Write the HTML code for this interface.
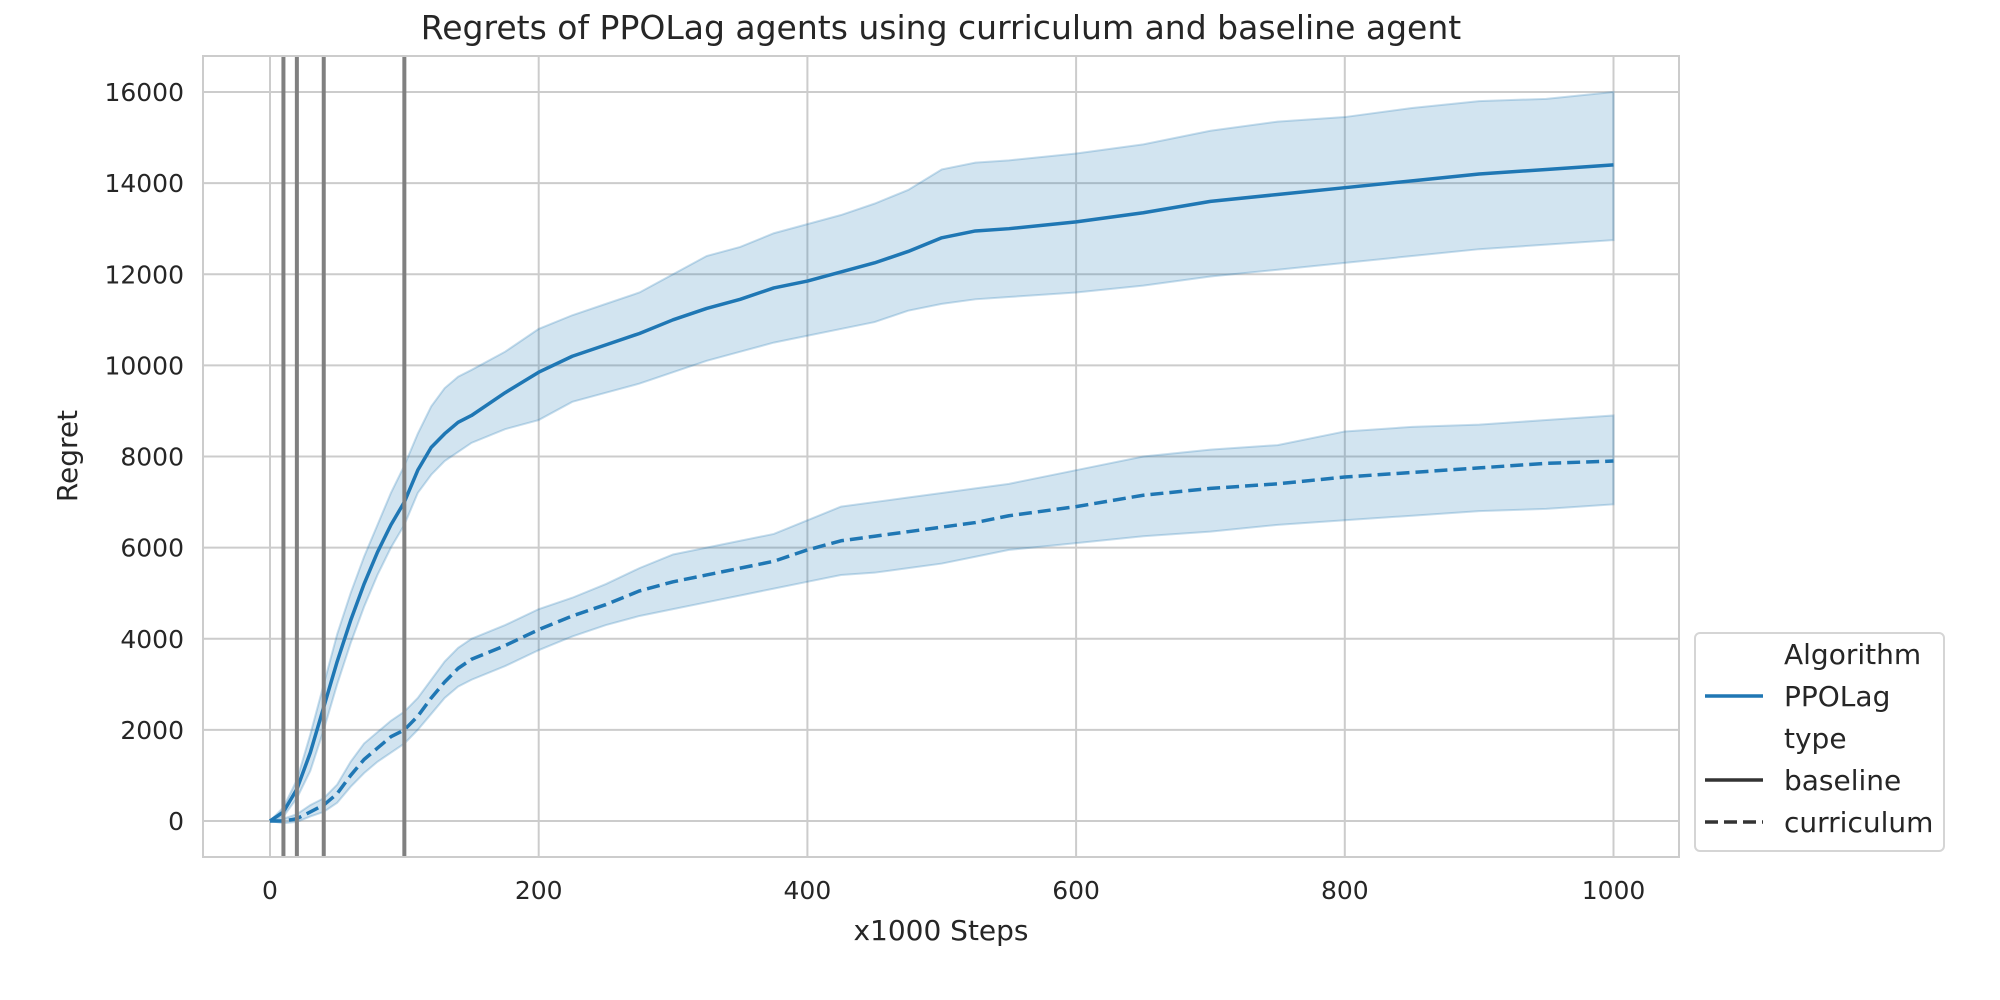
<!DOCTYPE html>
<html><head><meta charset="utf-8"><style>
body{margin:0;background:#fff}
svg{display:block;font-family:"DejaVu Sans","Liberation Sans",sans-serif;fill:#262626}
</style></head><body>
<svg id="chart" width="2000" height="1000" xmlns="http://www.w3.org/2000/svg">
<rect width="2000" height="1000" fill="#fff"/>
<text x="941" y="39" text-anchor="middle" font-size="33">Regrets of PPOLag agents using curriculum and baseline agent</text>
<g id="grid"></g>
<g id="bands"></g>
<g id="lines"></g>
<g id="vlines"></g>
<rect x="203" y="56" width="1476" height="801" fill="none" stroke="#cccccc" stroke-width="2"/>
<g id="ticks"></g>
<text x="941" y="940" text-anchor="middle" font-size="28">x1000 Steps</text>
<text transform="translate(77,456) rotate(-90)" text-anchor="middle" font-size="28">Regret</text>
<g>
<rect x="1695" y="633" width="249" height="218" rx="5" fill="#fff" stroke="#d5d5d5" stroke-width="2"/>
<text x="1784" y="664" font-size="28">Algorithm</text>
<line x1="1705" y1="696" x2="1763" y2="696" stroke="#1f77b4" stroke-width="3.5"/>
<text x="1784" y="706" font-size="28">PPOLag</text>
<text x="1784" y="748" font-size="28">type</text>
<line x1="1705" y1="780" x2="1763" y2="780" stroke="#333" stroke-width="3.5"/>
<text x="1784" y="790" font-size="28">baseline</text>
<line x1="1705" y1="822" x2="1763" y2="822" stroke="#333" stroke-width="3.5" stroke-dasharray="13,6"/>
<text x="1784" y="832" font-size="28">curriculum</text>
</g>
</svg>
<script>
const steps=[0,10,20,30,40,50,60,70,80,90,100,110,120,130,140,150,175,200,225,250,275,300,325,350,375,400,425,450,475,500,525,550,600,650,700,750,800,850,900,950,1000];
const baseMean=[0,200,700,1500,2500,3500,4400,5200,5900,6500,7000,7700,8200,8500,8750,8900,9400,9850,10200,10450,10700,11000,11250,11450,11700,11850,12050,12250,12500,12800,12950,13000,13150,13350,13600,13750,13900,14050,14200,14300,14400];
const baseUpper=[0,300,900,1900,3000,4100,5000,5800,6500,7200,7800,8500,9100,9500,9750,9900,10300,10800,11100,11350,11600,12000,12400,12600,12900,13100,13300,13550,13850,14300,14450,14500,14650,14850,15150,15350,15450,15650,15800,15850,16000];
const baseLower=[0,100,500,1100,2000,3000,3900,4700,5400,6000,6500,7200,7600,7900,8100,8300,8600,8800,9200,9400,9600,9850,10100,10300,10500,10650,10800,10950,11200,11350,11450,11500,11600,11750,11950,12100,12250,12400,12550,12650,12750];
const currMean=[0,0,50,200,350,600,1000,1350,1600,1850,2000,2300,2700,3050,3350,3550,3850,4200,4500,4750,5050,5250,5400,5550,5700,5950,6150,6250,6350,6450,6550,6700,6900,7150,7300,7400,7550,7650,7750,7850,7900];
const currUpper=[0,50,150,350,500,800,1300,1700,1950,2200,2400,2700,3100,3500,3800,4000,4300,4650,4900,5200,5550,5850,6000,6150,6300,6600,6900,7000,7100,7200,7300,7400,7700,8000,8150,8250,8550,8650,8700,8800,8900];
const currLower=[0,-50,-20,100,200,400,750,1050,1300,1500,1700,2000,2350,2700,2950,3100,3400,3750,4050,4300,4500,4650,4800,4950,5100,5250,5400,5450,5550,5650,5800,5950,6100,6250,6350,6500,6600,6700,6800,6850,6950];
const curriculumSwitches=[10,20,40,100];
const xTicks=[0,200,400,600,800,1000];
const yTicks=[0,2000,4000,6000,8000,10000,12000,14000,16000];

const NS="http://www.w3.org/2000/svg";
const X=v=>270+v*(1613.5-270)/1000;
const Y=v=>821-v*(821-92)/16000;
function mk(tag,attrs,parent){const e=document.createElementNS(NS,tag);for(const k in attrs)e.setAttribute(k,attrs[k]);document.getElementById(parent).appendChild(e);return e;}

xTicks.forEach(t=>{
  const l=mk('line',{x1:X(t),x2:X(t),y1:56,y2:857,stroke:'#cccccc','stroke-width':2},'grid');
  
  
  const tx=mk('text',{x:X(t),y:899,'text-anchor':'middle','font-size':25},'ticks');
  tx.textContent=t;
  
  
});
yTicks.forEach(t=>{
  const l=mk('line',{x1:203,x2:1679,y1:Y(t),y2:Y(t),stroke:'#cccccc','stroke-width':2},'grid');
  
  
  const tx=mk('text',{x:184,y:Y(t)+9,'text-anchor':'end','font-size':25},'ticks');
  tx.textContent=t;
  
  
});
function band(up,lo,name){
  let d='M'+steps.map((s,i)=>X(s)+','+Y(up[i])).join('L');
  d+='L'+steps.slice().reverse().map((s,j)=>{const i=steps.length-1-j;return X(s)+','+Y(lo[i]);}).join('L')+'Z';
  const p=mk('path',{d:d,fill:'rgba(31,119,180,0.2)',stroke:'rgba(31,119,180,0.25)','stroke-width':2},'bands');
  
  
}
band(baseUpper,baseLower,'baseline-confidence-band');
band(currUpper,currLower,'curriculum-confidence-band');
function line(vals,dash,name){
  const p=mk('polyline',{points:steps.map((s,i)=>X(s)+','+Y(vals[i])).join(' '),fill:'none',stroke:'#1f77b4','stroke-width':3.5,'stroke-linejoin':'round'},'lines');
  if(dash)p.setAttribute('stroke-dasharray',dash);
  
  
}
line(baseMean,null,'baseline-line');
line(currMean,'13,6','curriculum-line');
curriculumSwitches.forEach(s=>{
  const l=mk('line',{x1:X(s),x2:X(s),y1:56,y2:857,stroke:'#808080','stroke-width':4},'vlines');
  
  
});
</script>
</body></html>
